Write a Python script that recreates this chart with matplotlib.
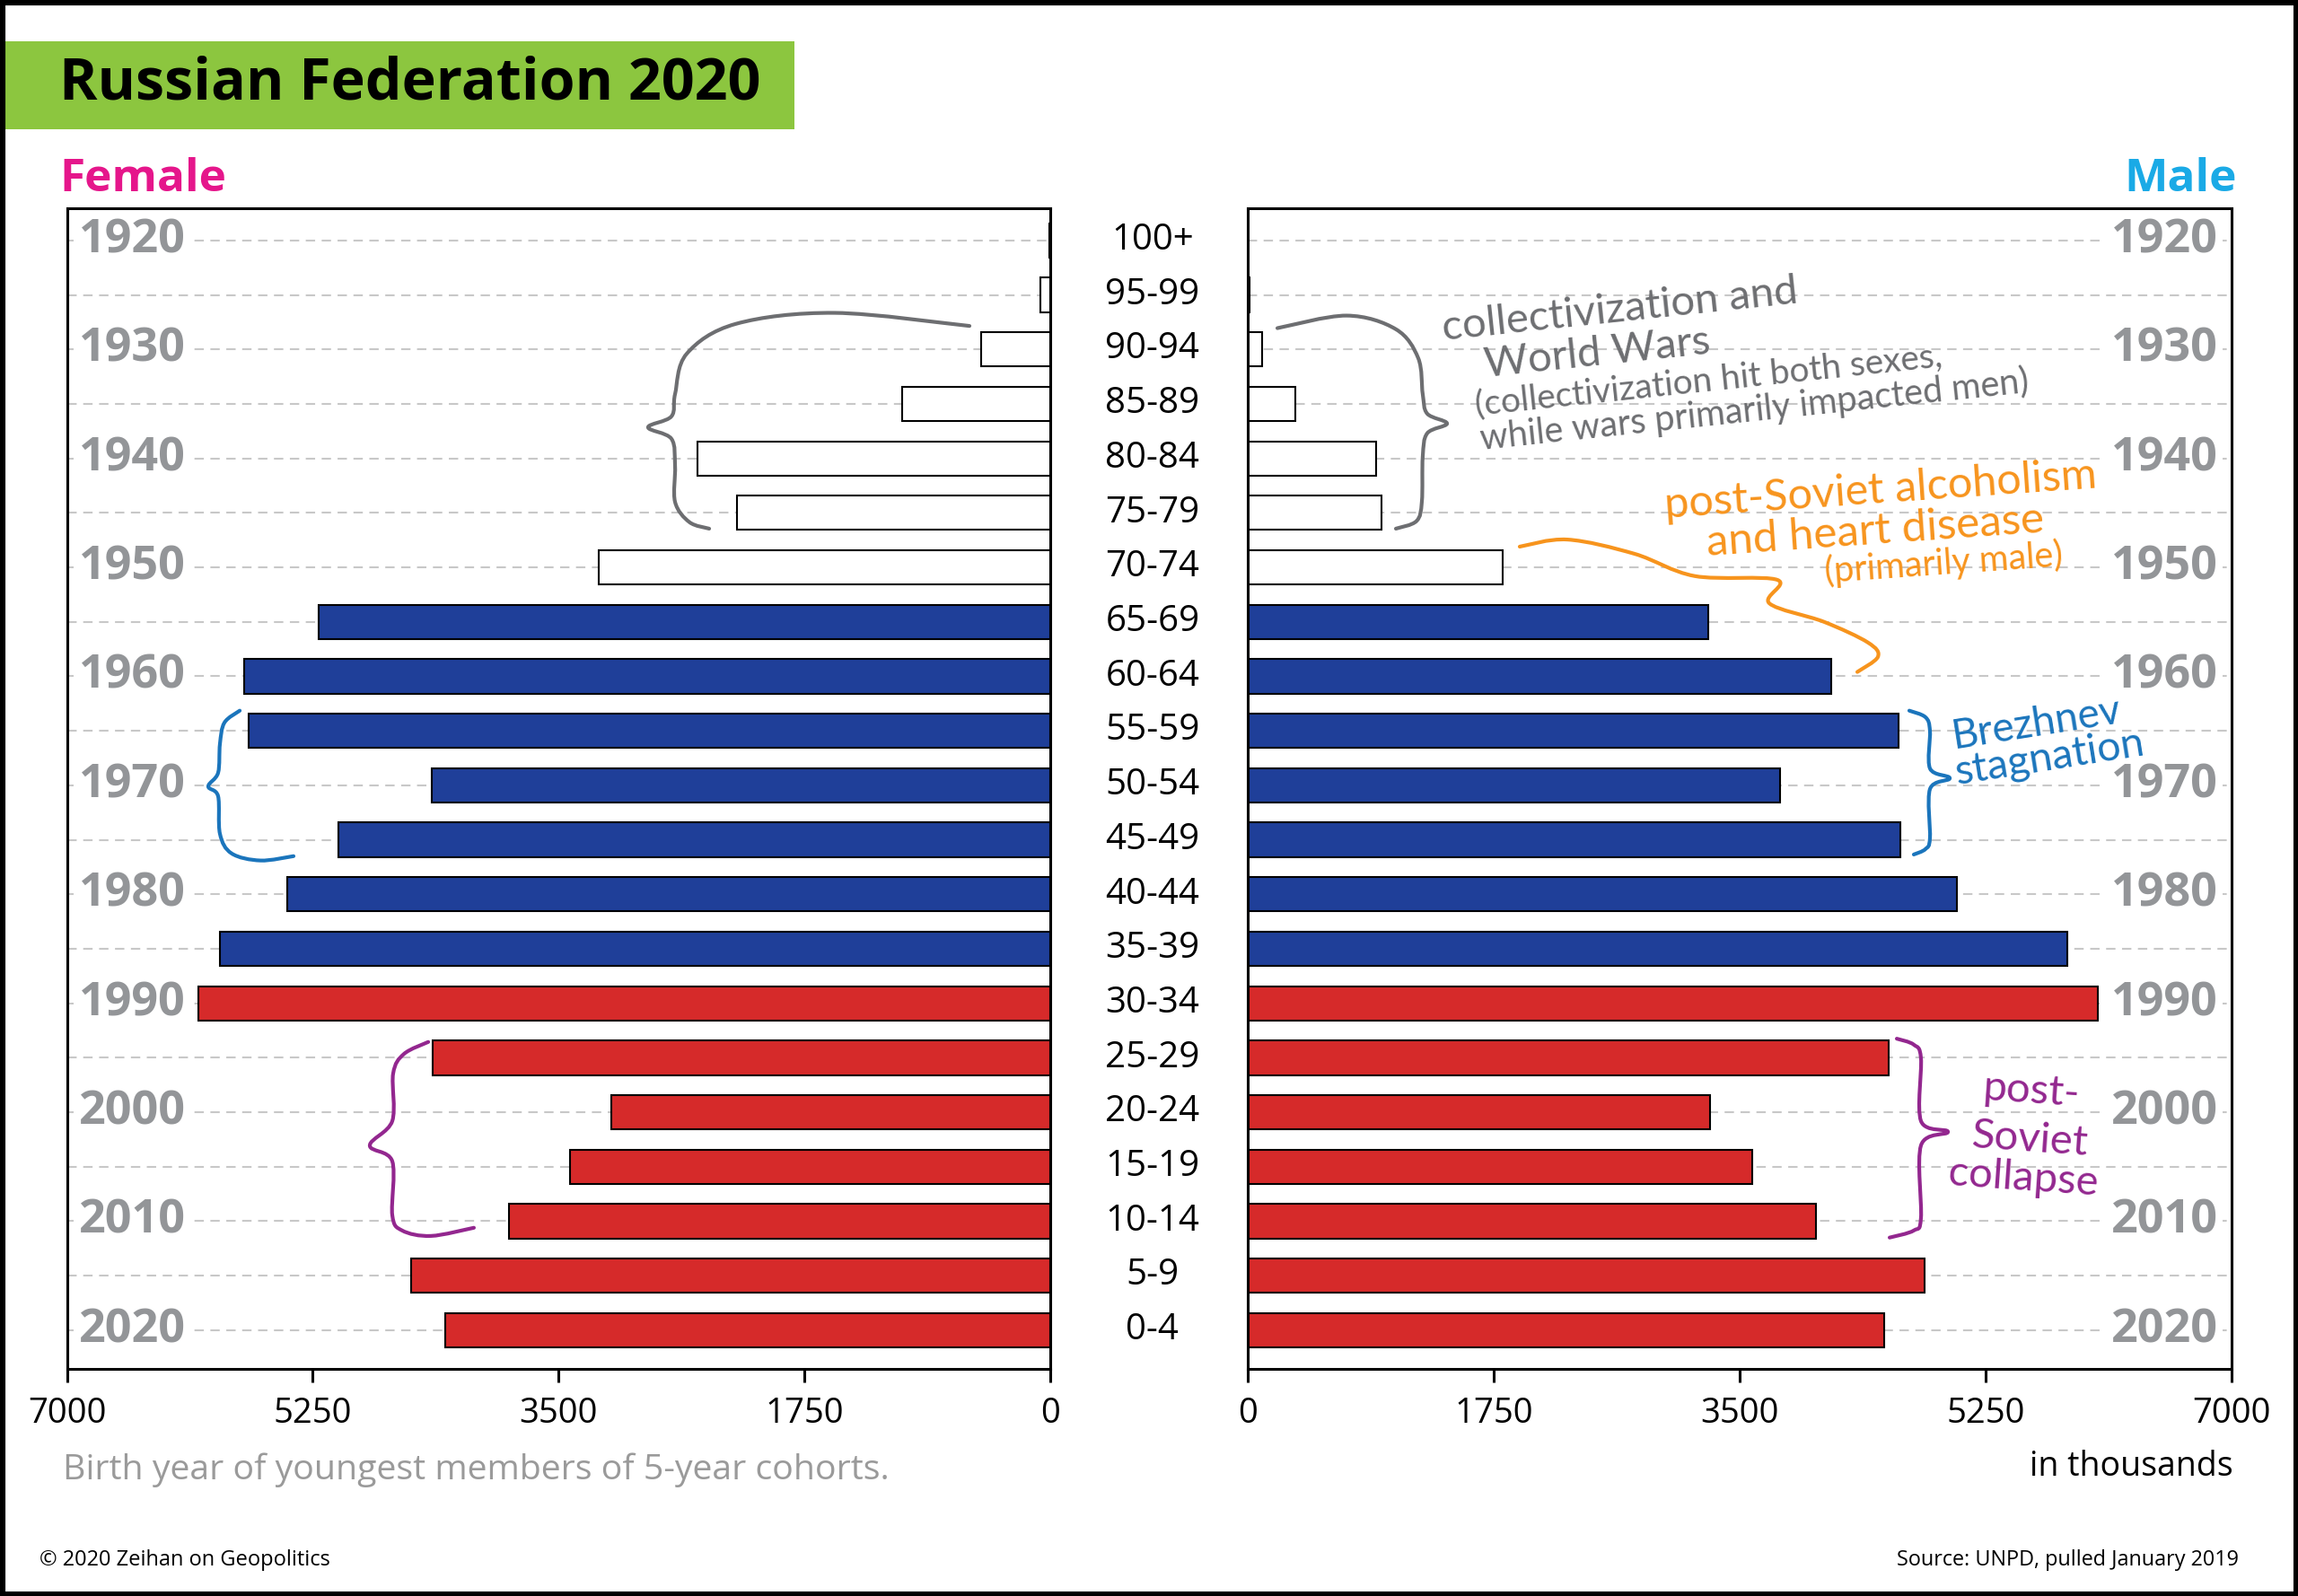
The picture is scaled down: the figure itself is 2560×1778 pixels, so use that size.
import numpy as np
import matplotlib
matplotlib.use("Agg")
import matplotlib.pyplot as plt
from matplotlib.path import Path
from matplotlib.patches import PathPatch, Rectangle
import matplotlib.transforms as mtransforms

plt.rcParams['font.family'] = ['Open Sans', 'DejaVu Sans']

# age groups from youngest (bottom) to oldest (top)
age_groups = ['0-4', '5-9', '10-14', '15-19', '20-24', '25-29', '30-34',
              '35-39', '40-44', '45-49', '50-54', '55-59', '60-64', '65-69',
              '70-74', '75-79', '80-84', '85-89', '90-94', '95-99', '100+']
# population in thousands
female = [4310, 4552, 3851, 3417, 3124, 4398, 6063,
          5910, 5432, 5067, 4403, 5708, 5740, 5208,
          3213, 2232, 2513, 1054, 490, 70, 5]
male = [4526, 4816, 4040, 3587, 3292, 4560, 6046,
        5830, 5046, 4641, 3785, 4631, 4152, 3277,
        1811, 950, 912, 341, 102, 12, 1]
birth_years = [2020, 2010, 2000, 1990, 1980, 1970, 1960, 1950, 1940, 1930, 1920]
xticks = [0, 1750, 3500, 5250, 7000]

RED = '#d62a2a'
BLUE = '#1f3f99'
GRAY_TXT = '#939598'
HAND = ['Lato', 'DejaVu Sans']

rows = np.arange(len(age_groups))
colors = [RED if i <= 6 else (BLUE if i <= 13 else 'white') for i in rows]

fig = plt.figure(figsize=(25.6, 17.78), dpi=100)
axL = fig.add_axes([74.6 / 2560, 1 - 1525 / 1778, 1095.4 / 2560, 1293 / 1778])
axR = fig.add_axes([1390 / 2560, 1 - 1525 / 1778, 1096 / 2560, 1293 / 1778])


def smooth(points):
    p = np.asarray(points, float)
    ext = np.vstack([p[0], p, p[-1]])
    verts = [p[0]]
    codes = [Path.MOVETO]
    for i in range(1, len(ext) - 2):
        p0, p1, p2, p3 = ext[i - 1], ext[i], ext[i + 1], ext[i + 2]
        verts += [p1 + (p2 - p0) / 6, p2 - (p3 - p1) / 6, p2]
        codes += [Path.CURVE4] * 3
    return Path(verts, codes)


def curve(ax, pts, color, lw=3):
    ax.add_patch(PathPatch(smooth(pts), facecolor='none', edgecolor=color,
                           lw=lw, capstyle='round', joinstyle='round',
                           clip_on=False, zorder=5))


def hand(ax, x, y, s, color, size, rot, ha='left'):
    ax.text(x, y, s, rotation=rot, rotation_mode='anchor', ha=ha,
            va='baseline', fontsize=size, family=HAND, fontweight='normal',
            color=color, zorder=6)


for ax, vals in [(axL, female), (axR, male)]:
    for r in rows:
        ax.axhline(r, color='#c8c8c8', lw=1.5, ls=(0, (5, 3.5)), zorder=0)
    ax.barh(rows, vals, height=0.63, color=colors, edgecolor='black',
            linewidth=1.5, zorder=2)
    ax.set_ylim(-0.71, 20.59)
    ax.set_yticks([])
    ax.set_xticks(xticks)
    ax.set_xticklabels([str(t) for t in xticks])
    ax.tick_params(axis='x', length=11, width=2.2, pad=11, labelsize=27.5,
                   direction='out')
    for s in ax.spines.values():
        s.set_linewidth(2.2)

axL.set_xlim(7000, 0)
axR.set_xlim(0, 7000)

# birth-year labels
for k, yr in enumerate(birth_years):
    r = 2 * k
    axL.text(0.012, r, str(yr), transform=axL.get_yaxis_transform(),
             ha='left', va='center', fontsize=37.5, fontweight='bold',
             color=GRAY_TXT, zorder=1,
             bbox=dict(facecolor='white', edgecolor='none', pad=4))
    axR.text(0.986, r, str(yr), transform=axR.get_yaxis_transform(),
             ha='right', va='center', fontsize=37.5, fontweight='bold',
             color=GRAY_TXT, zorder=1,
             bbox=dict(facecolor='white', edgecolor='none', pad=4))

# age group labels in the middle
mid = mtransforms.blended_transform_factory(fig.transFigure, axL.transData)
for r, g in zip(rows, age_groups):
    fig.text(0.5015, r, g, transform=mid, ha='center', va='center',
             fontsize=29, color='black')

# title block
fig.patches.append(Rectangle((5 / 2560, 1 - 144 / 1778), 880 / 2560, 98 / 1778,
                             transform=fig.transFigure, facecolor='#8cc63f',
                             edgecolor='none', zorder=0))
fig.text(66 / 2560, 1 - 94 / 1778, 'Russian Federation 2020', ha='left',
         va='center', fontsize=46.5, fontweight='bold', color='black')
fig.text(66 / 2560, 1 - 213 / 1778, 'Female', ha='left', va='baseline',
         fontsize=37, fontweight='bold', color='#e5168b')
fig.text(2492 / 2560, 1 - 213 / 1778, 'Male', ha='right', va='baseline',
         fontsize=37, fontweight='bold', color='#1aaae6')

fig.text(70 / 2560, 1 - 1648 / 1778, 'Birth year of youngest members of 5-year cohorts.',
         ha='left', va='baseline', fontsize=28.3, color='#9a9a9a')
fig.text(2488 / 2560, 1 - 1644 / 1778, 'in thousands', ha='right',
         va='baseline', fontsize=27, color='black')
fig.text(44 / 2560, 1 - 1744 / 1778, '\u00a9 2020 Zeihan on Geopolitics',
         ha='left', va='baseline', fontsize=17, color='black')
fig.text(2494 / 2560, 1 - 1744 / 1778, 'Source: UNPD, pulled January 2019',
         ha='right', va='baseline', fontsize=16.8, color='black')

# outer frame
fig.patches.append(Rectangle((0, 0), 1, 1, transform=fig.transFigure,
                             facecolor='none', edgecolor='black', lw=8))

# ---- annotations ----
GRAY = '#6d6e71'
ORANGE = '#f7941d'
BBLUE = '#1b75bc'
PURPLE = '#93278f'

curve(axL, [(575, 18.43), (1533, 18.67), (2236, 18.47), (2588, 17.92),
            (2671, 17.18), (2697, 16.77), (2863, 16.57), (2697, 16.36),
            (2671, 15.86), (2671, 15.2), (2569, 14.83), (2428, 14.71)], GRAY)
curve(axR, [(211, 18.39), (703, 18.62), (1054, 18.37), (1213, 17.84),
            (1245, 17.18), (1277, 16.82), (1418, 16.64), (1277, 16.46),
            (1245, 16.03), (1239, 15.21), (1201, 14.85), (1054, 14.71)], GRAY)

hand(axR, 1392, 18.17, 'collectivization and', GRAY, 34, 6)
hand(axR, 1692, 17.5, 'World Wars', GRAY, 34, 6)
hand(axR, 1626, 16.8, '(collectivization hit both sexes,', GRAY, 28, 6)
hand(axR, 1660, 16.15, 'while wars primarily impacted men)', GRAY, 28.5, 6)

curve(axR, [(1935, 14.38), (2274, 14.51), (2750, 14.25), (3181, 13.84),
            (3768, 13.77), (3711, 13.34), (4100, 13.0), (4413, 12.62),
            (4484, 12.36), (4337, 12.08)], ORANGE)
hand(axR, 2970, 14.9, 'post-Soviet alcoholism', ORANGE, 35, 4)
hand(axR, 3270, 14.22, 'and heart disease', ORANGE, 35.5, 4)
hand(axR, 4107, 13.72, '(primarily male)', ORANGE, 28.5, 4)

curve(axL, [(5770, 11.37), (5879, 11.15), (5911, 10.76), (5924, 10.23),
            (5994, 9.98), (5924, 9.80), (5911, 9.11), (5828, 8.75),
            (5623, 8.62), (5387, 8.70)], BBLUE)
curve(axR, [(4707, 11.37), (4822, 11.25), (4854, 11.0), (4854, 10.31),
            (4995, 10.13), (4854, 9.93), (4854, 9.03), (4822, 8.83),
            (4739, 8.73)], BBLUE)
hand(axR, 5027, 10.68, 'Brezhnev', BBLUE, 33, 9)
hand(axR, 5046, 10.02, 'stagnation', BBLUE, 33.5, 9)

curve(axL, [(4428, 5.29), (4601, 5.07), (4678, 4.71), (4684, 3.84),
            (4844, 3.39), (4684, 3.10), (4684, 2.11), (4614, 1.83),
            (4409, 1.73), (4103, 1.88)], PURPLE)
curve(axR, [(4618, 5.35), (4739, 5.24), (4790, 4.99), (4790, 3.84),
            (4982, 3.64), (4790, 3.39), (4790, 2.06), (4739, 1.83),
            (4567, 1.70)], PURPLE)
for txt, xc, yb in [('post-', 5570, 4.17), ('Soviet', 5560, 3.29),
                    ('collapse', 5512, 2.57)]:
    hand(axR, xc, yb, txt, PURPLE, 34, -4, ha='center')

fig.savefig('out.png', dpi=100, facecolor='white')
